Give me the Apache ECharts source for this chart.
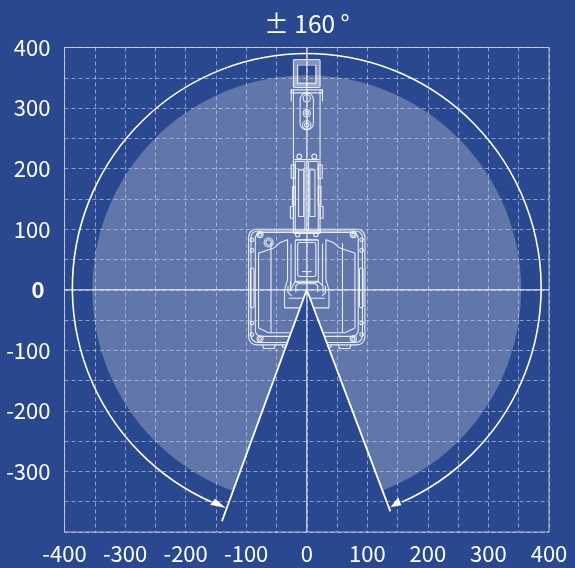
<!DOCTYPE html>
<html><head><meta charset="utf-8">
<style>html,body{margin:0;padding:0;background:#2a4890}#c{width:575px;height:568px}</style>
<script src="https://cdn.jsdelivr.net/npm/echarts@6/dist/echarts.min.js"></script>
</head><body><div id="c"></div>
<script>
const titleText = '± 160 °';
const axisMin = -400, axisMax = 400, gridStep = 50;
const reachRadius = 354, arcRadius = 387, arcCentreY = 3, arcGap = 24;
const workAngle = 160;
const leftLimit = [-140, -382], rightLimit = [138, -366];
const arrowLeft = [[-133.6,-360.2],[-159.5,-354.8],[-151.2,-344.9]];
const arrowRight = [[138,-359],[151.2,-343],[156.2,-356]];
const wedge = [[0,0], leftLimit, rightLimit];
const zeroH = [[axisMin,0],[axisMax,0]], zeroV = [[0,axisMin],[0,axisMax]];

// robot outline, millimetres: [x0,y0,x1,y1,radius]
const headFrame = [[-18.5,375.5,18.5,338.5,0]];
const rectsCentre = [
  [-22,380,22,334,2],[-15,371,15,341,0],
  [-25.6,330,26,325,0],[-11,325,11,264,11],
  [-22,215,22,93,2],[-96,100,96,-91,13],[-92,97,92,-87,11],[-85,94.6,85,-77,10],
  [-15,78,15,22,3],[-19,82.5,19,12,2]
];
const rectsLeft = [
  [-19,212,-3,97,1],[-13.5,198,-5,121,0],[-25.6,206,-19,184,0],[-23.5,170,-19,140,0],
  [-27,137.5,-22,118,0],[-93,36,-87,-30,3]
];
const circlesCentre = [[0,316,6],[0,291.5,6],[0,272,7],[0,291.5,3],[0,272,3.5]];
const circlesLeft = [
  [-12.4,220,4],[-77,91,5],[-77,91,2.5],[-77,-81,5],[-77,-81,2.5],
  [-90.6,82.5,3],[-90.6,65,3],[-90.6,-55,3],[-90.6,-74,3],[-15,91,3.5]
];
const circlesExtra = [[-63,78,7.5],[-63,78,4.5]];
const polyCentre = [
  [[-22,330],[-22,215]],[[22,330],[22,215]],
  [[-25.6,330],[-25.6,311]],[[26,330],[26,311]],
  [[-19,82],[19,82]],[[-8,30],[8,30]],
  [[-36.7,-30],[36.7,-30]],[[-30,-14],[30,-14]],
  [[-79.6,-63],[-63,-71],[63,-71],[79.6,-63]],
  [[-27,14],[-27,-1],[-19,14],[19,14],[27,6],[27,-5]],
  [[-18,-4],[-18,7],[-14,10],[14,10],[18,7],[18,-4]]
];
const polyLeft = [
  [[-79.6,-63],[-79.6,60.5],[-54.8,68.8],[-43.8,78],[-31.7,82.5],[-31.7,16.5],[-36.7,0],[-36.7,-30]],
  [[-59,77],[-59,-71]],[[-26,76],[-26,6]],[[-31,6],[-31,-5],[-25,-10]],
  [[-22,100],[-22,93]],[[-73,-91],[-71,-97],[-54,-97],[-52,-91]],[[-40,-91],[-40,-95],[-15,-95],[-15,-91]]
];
const mirror = p => [-p[0], p[1]];
const rects = rectsCentre.concat(rectsLeft, rectsLeft.map(r => [-r[2], r[1], -r[0], r[3], r[4]]));
const circles = circlesCentre.concat(circlesLeft, circlesLeft.map(c => [-c[0], c[1], c[2]]), circlesExtra);
const polys = polyCentre.concat(polyLeft, polyLeft.map(l => l.map(mirror)));

const bg = '#2a4890', robotStroke = 'rgba(255,255,255,0.85)';
const rad = d => d * Math.PI / 180;
const startA = rad(90 + (180 - workAngle)), endA = rad(90 - (180 - workAngle) + 360);
const xLabel = v => (Math.abs(v) % 100 !== 0 ? '' : String(v));
const yLabel = v => {
  if (Math.abs(v) % 100 !== 0 || v === axisMin) return '';
  return v === 0 ? '{z|0}' : String(v);
};
const axisBase = {
  type: 'value', min: axisMin, max: axisMax, interval: gridStep, z: 3,
  axisLine: {onZero: false, show: false}, axisTick: {show: false},
  splitLine: {show: true, lineStyle: {color: 'rgba(214,222,240,0.58)', type: [4, 3], width: 1}}
};
const shapeSeries = (name, z, data, enc, render) => ({
  type: 'custom', name, z, data, encode: enc, renderItem: render, silent: true, animation: false
});
const polySeries = (name, z, list, style, closed) => shapeSeries(name, z,
  list.map((l, i) => [l[0][0], l[0][1], i]), {x: 0, y: 1},
  (p, api) => ({type: closed ? 'polygon' : 'polyline',
    shape: {points: list[api.value(2)].map(q => api.coord(q))}, style}));
const rectRender = style => (p, api) => {
  const a = api.coord([api.value(0), api.value(1)]), b = api.coord([api.value(2), api.value(3)]);
  const rr = api.size([api.value(4), 0])[0];
  return {type: 'rect', shape: {x: a[0], y: a[1], width: b[0] - a[0], height: b[1] - a[1], r: rr}, style};
};

const chart = echarts.init(document.getElementById('c'), null, {renderer: 'canvas'});
chart.setOption({
  backgroundColor: bg, animation: false,
  textStyle: {fontFamily: '"Noto Sans CJK JP"'},
  title: {text: titleText, left: 302, top: 6, textAlign: 'center',
    textStyle: {color: '#fff', fontSize: 24.5, fontWeight: 'normal', fontFamily: '"Noto Sans CJK JP"'}},
  grid: {left: 64.5, right: 26, top: 47.5, bottom: 36, show: true, borderColor: '#b4bccf', borderWidth: 1, backgroundColor: 'transparent'},
  xAxis: Object.assign({}, axisBase, {axisLabel: {color: '#fff', fontSize: 22, margin: 11, formatter: xLabel, hideOverlap: false,
    fontFamily: '"Noto Sans CJK JP"'}}),
  yAxis: Object.assign({}, axisBase, {axisLabel: {color: '#fff', fontSize: 22, margin: 14, formatter: yLabel, hideOverlap: false,
    rich: {z: {color: '#fff', fontSize: 22, fontWeight: 'bold', padding: [0, 6, 0, 0]}}, fontFamily: '"Noto Sans CJK JP"'}}),
  series: [
    shapeSeries('reach', 1, [[0, 0, reachRadius]], {x: 0, y: 1}, (p, api) => {
      const c = api.coord([0, 0]), r = api.size([api.value(2), 0])[0];
      return {type: 'sector', shape: {cx: c[0], cy: c[1], r, r0: 0, startAngle: startA, endAngle: endA, clockwise: true},
        style: {fill: 'rgba(255,255,255,0.26)'}};
    }),
    shapeSeries('headFrame', 1, headFrame, {x: [0, 2], y: [1, 3]}, rectRender({fill: 'none', stroke: 'rgba(255,255,255,0.42)', lineWidth: 4})),
    shapeSeries('rects', 1, rects, {x: [0, 2], y: [1, 3]}, rectRender({fill: 'none', stroke: robotStroke, lineWidth: 1.1})),
    shapeSeries('holes', 1, circles, {x: 0, y: 1}, (p, api) => {
      const c = api.coord([api.value(0), api.value(1)]), r = api.size([api.value(2), 0])[0];
      return {type: 'circle', shape: {cx: c[0], cy: c[1], r}, style: {fill: 'none', stroke: robotStroke, lineWidth: 1.1}};
    }),
    polySeries('outline', 1, polys, {fill: 'none', stroke: robotStroke, lineWidth: 1.1}, false),
    polySeries('wedge', 2, [wedge], {fill: bg, stroke: 'none'}, true),
    {type: 'line', name: 'zeroH', z: 4, data: zeroH, symbol: 'none', lineStyle: {color: 'rgba(255,255,255,0.66)', width: 1.5}, silent: true},
    {type: 'line', name: 'zeroV', z: 4, data: zeroV, symbol: 'none', lineStyle: {color: 'rgba(255,255,255,0.66)', width: 1.5}, silent: true},
    polySeries('limits', 5, [[[0,0], leftLimit], [[0,0], rightLimit]], {fill: 'none', stroke: '#fff', lineWidth: 1.8}, false),
    polySeries('arrows', 5, [arrowLeft, arrowRight], {fill: '#fff', stroke: 'none'}, true),
    shapeSeries('arc', 5, [[0, arcCentreY, arcRadius]], {x: 0, y: 1}, (p, api) => {
      const c = api.coord([0, api.value(1)]), r = api.size([api.value(2), 0])[0];
      return {type: 'arc', shape: {cx: c[0], cy: c[1], r, startAngle: rad(90 + arcGap), endAngle: rad(450 - arcGap), clockwise: true},
        style: {fill: 'none', stroke: '#fff', lineWidth: 1.6}};
    })
  ]
});
</script></body></html>
